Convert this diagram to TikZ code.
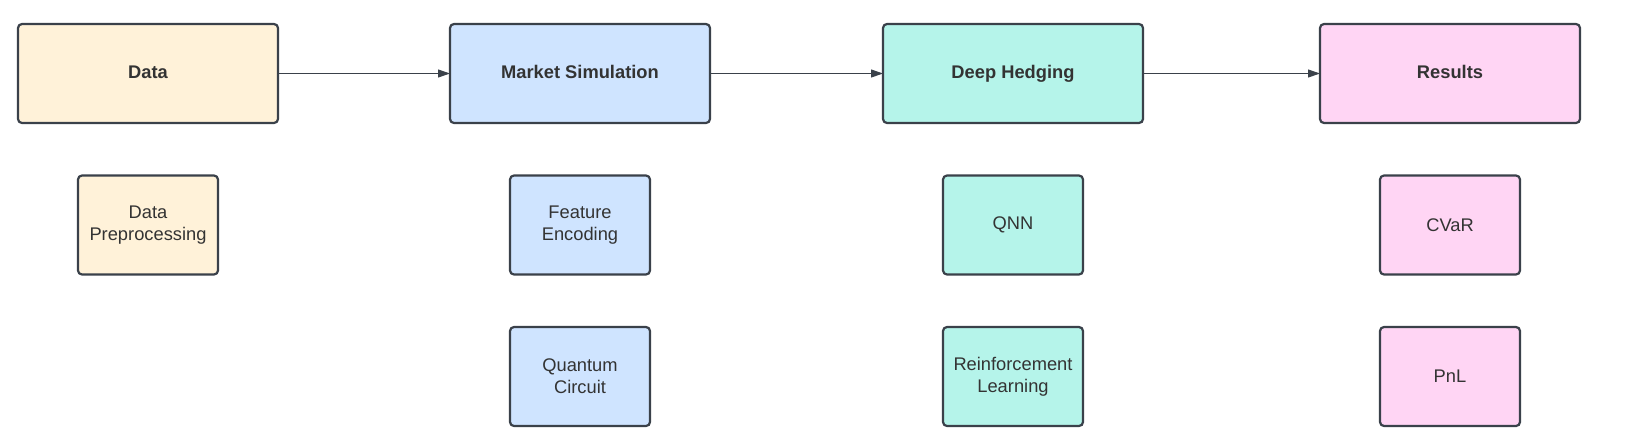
\documentclass[tikz,border=0pt]{standalone}
\usepackage{fontspec}
\setmainfont{Liberation Sans}
\usetikzlibrary{arrows.meta}
\definecolor{edgegray}{HTML}{3A414A}
\definecolor{textgray}{HTML}{333333}
\definecolor{datafill}{HTML}{FFF2D9}
\definecolor{marketfill}{HTML}{CFE4FF}
\definecolor{hedgefill}{HTML}{B5F4EA}
\definecolor{resultfill}{HTML}{FFD5F4}

\begin{document}
\begin{tikzpicture}[x=1pt,y=-1pt,
    box/.style={draw=edgegray,line width=2.2pt,rounded corners=4pt,
        text=textgray,align=center,inner sep=0pt,outer sep=0pt,
        font=\fontsize{18.3}{21.7}\selectfont},
    bigbox/.style={box,minimum width=260pt,minimum height=99pt,
        text height=13.1pt,text depth=4pt,
        font=\fontsize{18.3}{21.7}\selectfont\bfseries},
    smallbox/.style={box,minimum width=140pt,minimum height=99pt},
    flow/.style={draw=edgegray,line width=1pt,-{Triangle[length=12pt,width=8pt]}}]
    \useasboundingbox (0,0) rectangle (1630,445);
    % top row
    \node[bigbox,fill=datafill] (data) at (148,73.5) {Data};
    \node[bigbox,fill=marketfill] (market) at (580,73.5) {Market Simulation};
    \node[bigbox,fill=hedgefill] (hedge) at (1013,73.5) {Deep Hedging};
    \node[bigbox,fill=resultfill] (results) at (1450,73.5) {Results};
    % sub steps
    \node[smallbox,fill=datafill] (prep) at (148,225) {Data\\Preprocessing};
    \node[smallbox,fill=marketfill] (encoding) at (580,225) {Feature\\Encoding};
    \node[smallbox,fill=marketfill] (circuit) at (580,376.5) {Quantum\\Circuit};
    \node[smallbox,fill=hedgefill] (qnn) at (1013,225) {QNN};
    \node[smallbox,fill=hedgefill] (rl) at (1013,376.5) {Reinforcement\\Learning};
    \node[smallbox,fill=resultfill] (cvar) at (1450,225) {CVaR};
    \node[smallbox,fill=resultfill] (pnl) at (1450,376.5) {PnL};
    % arrows
    \draw[flow] (data) -- (market);
    \draw[flow] (market) -- (hedge);
    \draw[flow] (hedge) -- (results);
\end{tikzpicture}
\end{document}
